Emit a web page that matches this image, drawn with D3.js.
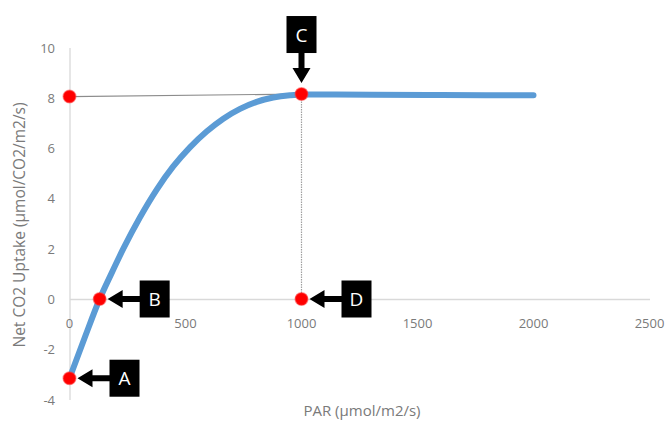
<!DOCTYPE html>
<html><head><meta charset="utf-8">
<script src="https://cdn.jsdelivr.net/npm/d3@7/dist/d3.min.js"></script>
<style>
html,body{margin:0;padding:0;background:#fff;}
svg{display:block;font-family:"Open Sans",sans-serif;}
</style></head>
<body><svg id="c" width="668" height="435"></svg>
<script>
// Data
const curveX = [0, 65, 130, 180, 232, 304, 376, 447, 519, 591, 663, 735, 807, 878, 950, 1000, 1100, 1300, 1600, 2000];
const curveY = [-3.15, -1.55, 0, 1.0, 2.0, 3.25, 4.35, 5.27, 6.03, 6.66, 7.17, 7.56, 7.84, 8.01, 8.1, 8.13, 8.13, 8.12, 8.11, 8.1];
const xTicks = [0, 500, 1000, 1500, 2000, 2500];
const yTicks = [-4, -2, 0, 2, 4, 6, 8, 10];
const pointNames = ["A", "B", "C", "D", "E"];
const pointX = [0, 130, 1000, 1000, 0];
const pointY = [-3.15, 0, 8.15, 0, 8.05];
const labelNames = ["A", "B", "C", "D"];
const labelDir = ["left", "left", "down", "left"];
const xTitle = "PAR (µmol/m2/s)";
const yTitle = "Net CO2 Uptake (µmol/CO2/m2/s)";

const svg = d3.select("#c");
const x = d3.scaleLinear().domain([0, 2500]).range([69.5, 649.5]);
const y = d3.scaleLinear().domain([-4, 10]).range([399.6, 47.5]);

// axes lines (no ticks)
const gx = svg.append("g").attr("transform", `translate(0,${y(0)})`)
  .call(d3.axisBottom(x).tickValues([]).tickSize(0));
gx.select(".domain").attr("stroke", "#d9d9d9").attr("stroke-width", 1.3);
const gy = svg.append("g").attr("transform", `translate(${x(0)},0)`)
  .call(d3.axisLeft(y).tickValues([]).tickSize(0));
gy.select(".domain").attr("stroke", "#d9d9d9").attr("stroke-width", 1.3);

// tick labels
svg.append("g").selectAll("text").data(xTicks).join("text")
  .attr("x", d => x(d)).attr("y", y(0) + 29)
  .attr("text-anchor", "middle").attr("fill", "#7a7a7a").attr("font-size", 13)
  .text(d => d);
svg.append("g").selectAll("text").data(yTicks).join("text")
  .attr("x", 55).attr("y", d => y(d) + 5)
  .attr("text-anchor", "end").attr("fill", "#7a7a7a").attr("font-size", 13)
  .text(d => d);

// titles
svg.append("text").attr("x", 362).attr("y", 416).attr("text-anchor", "middle")
  .attr("fill", "#7a7a7a").attr("font-size", 15).text(xTitle);
svg.append("text").attr("transform", "translate(25,225) rotate(-90)").attr("text-anchor", "middle")
  .attr("fill", "#7a7a7a").attr("font-size", 15.5).text(yTitle);

// guide lines
const P = i => [x(pointX[i]), y(pointY[i])];
svg.append("line").attr("x1", P(4)[0]).attr("y1", P(4)[1]).attr("x2", P(2)[0]).attr("y2", P(2)[1])
  .attr("stroke", "#8c8c8c").attr("stroke-width", 1.2);
svg.append("line").attr("x1", P(2)[0]).attr("y1", P(2)[1]).attr("x2", P(3)[0]).attr("y2", P(3)[1])
  .attr("stroke", "#a0a0a0").attr("stroke-width", 1.2).attr("stroke-dasharray", "1.5,1");

// curve
const line = d3.line().x(d => x(d[0])).y(d => y(d[1])).curve(d3.curveMonotoneX);
svg.append("path").datum(curveX.map((v, i) => [v, curveY[i]]))
  .attr("d", line).attr("fill", "none").attr("stroke", "#5b9bd5")
  .attr("stroke-width", 6).attr("stroke-linecap", "round").attr("stroke-linejoin", "round");

// points
svg.append("g").selectAll("circle").data(pointNames).join("circle")
  .attr("cx", (d, i) => P(i)[0]).attr("cy", (d, i) => P(i)[1]).attr("r", 6.3)
  .attr("fill", "#ff0000").attr("stroke", "#f33").attr("stroke-opacity", 0.5).attr("stroke-width", 1.5);

// annotation labels with arrows
const bw = 30, bh = 37, tipOff = 8, boxOff = 40, sh = 3, headL = 15, headW = 9;
labelNames.forEach((name, k) => {
  const i = pointNames.indexOf(name);
  const [px, py] = P(i);
  const g = svg.append("g");
  if (labelDir[k] === "left") {
    const tx = px + tipOff, bx = px + boxOff;
    g.append("path").attr("fill", "#000").attr("d",
      `M${tx},${py} L${tx + headL},${py - headW} L${tx + headL},${py - sh} L${bx + 1},${py - sh} L${bx + 1},${py + sh} L${tx + headL},${py + sh} L${tx + headL},${py + headW} Z`);
    g.append("rect").attr("x", bx).attr("y", py - bh / 2).attr("width", bw).attr("height", bh).attr("fill", "#000");
    g.append("text").attr("x", bx + bw / 2).attr("y", py + 7).attr("text-anchor", "middle")
      .attr("fill", "#fff").attr("font-size", 19).text(name);
  } else {
    const ty = py - tipOff - 3, by = py - boxOff - 1;
    g.append("path").attr("fill", "#000").attr("d",
      `M${px},${ty} L${px - headW},${ty - headL} L${px - sh},${ty - headL} L${px - sh},${by - 1} L${px + sh},${by - 1} L${px + sh},${ty - headL} L${px + headW},${ty - headL} Z`);
    g.append("rect").attr("x", px - bw / 2).attr("y", by - bh).attr("width", bw).attr("height", bh).attr("fill", "#000");
    g.append("text").attr("x", px).attr("y", by - bh / 2 + 7).attr("text-anchor", "middle")
      .attr("fill", "#fff").attr("font-size", 19).text(name);
  }
});
</script></body></html>
